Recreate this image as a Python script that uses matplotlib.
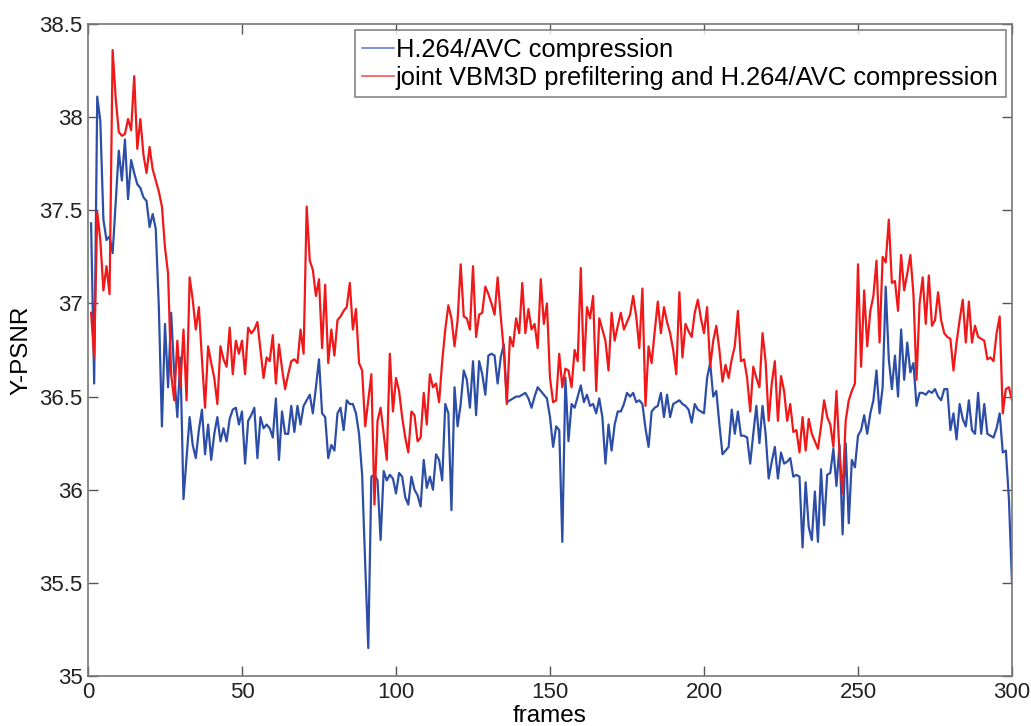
import numpy as np
import matplotlib
matplotlib.use("Agg")
import matplotlib.pyplot as plt

plt.rcParams['font.family'] = ['Liberation Sans', 'DejaVu Sans']

# Y-PSNR по кадрам
psnr_h264 = [
    37.43, 36.57, 38.11, 37.98, 37.45, 37.34, 37.36, 37.27, 37.55, 37.82,
    37.66, 37.88, 37.56, 37.77, 37.70, 37.64, 37.62, 37.57, 37.55, 37.41,
    37.48, 37.40, 36.98, 36.34, 36.89, 36.55, 36.95, 36.62, 36.39, 36.71,
    35.95, 36.17, 36.39, 36.24, 36.17, 36.32, 36.43, 36.19, 36.35, 36.16,
    36.30, 36.39, 36.26, 36.33, 36.26, 36.38, 36.43, 36.44, 36.35, 36.42,
    36.14, 36.37, 36.40, 36.44, 36.17, 36.39, 36.33, 36.35, 36.33, 36.28,
    36.49, 36.16, 36.42, 36.30, 36.30, 36.45, 36.31, 36.45, 36.35, 36.45,
    36.48, 36.51, 36.41, 36.55, 36.70, 36.41, 36.39, 36.17, 36.24, 36.21,
    36.41, 36.44, 36.32, 36.48, 36.46, 36.46, 36.41, 36.30, 36.08, 35.60,
    35.15, 36.07, 36.08, 36.05, 35.73, 36.10, 36.05, 36.08, 36.06, 35.98,
    36.09, 36.07, 35.96, 35.92, 36.07, 36.00, 35.97, 35.91, 36.16, 36.01,
    36.07, 36.00, 36.19, 36.16, 36.05, 36.46, 36.41, 35.89, 36.55, 36.34,
    36.46, 36.64, 36.59, 36.44, 36.69, 36.40, 36.69, 36.62, 36.51, 36.72,
    36.73, 36.72, 36.57, 36.71, 36.78, 36.47, 36.48, 36.49, 36.50, 36.50,
    36.51, 36.52, 36.49, 36.44, 36.50, 36.55, 36.53, 36.51, 36.49, 36.39,
    36.23, 36.34, 36.32, 35.72, 36.60, 36.26, 36.46, 36.44, 36.50, 36.56,
    36.47, 36.51, 36.45, 36.46, 36.41, 36.49, 36.39, 36.14, 36.35, 36.21,
    36.35, 36.42, 36.42, 36.46, 36.52, 36.50, 36.52, 36.47, 36.48, 36.46,
    36.33, 36.23, 36.42, 36.44, 36.45, 36.52, 36.39, 36.51, 36.39, 36.46,
    36.47, 36.48, 36.46, 36.45, 36.43, 36.36, 36.46, 36.43, 36.42, 36.41,
    36.60, 36.68, 36.50, 36.53, 36.35, 36.19, 36.21, 36.23, 36.43, 36.30,
    36.42, 36.29, 36.29, 36.28, 36.14, 36.30, 36.45, 36.25, 36.45, 36.30,
    36.06, 36.15, 36.23, 36.06, 36.20, 36.14, 36.15, 36.17, 36.07, 36.08,
    36.07, 35.69, 36.04, 35.80, 35.73, 35.99, 35.72, 36.11, 35.81, 36.08,
    36.09, 36.22, 36.02, 36.24, 35.76, 36.25, 35.82, 36.16, 36.12, 36.29,
    36.32, 36.40, 36.30, 36.41, 36.48, 36.64, 36.41, 36.55, 37.09, 36.70,
    36.54, 36.72, 36.50, 36.86, 36.59, 36.79, 36.63, 36.68, 36.45, 36.52,
    36.52, 36.51, 36.53, 36.52, 36.54, 36.50, 36.48, 36.54, 36.54, 36.32,
    36.41, 36.27, 36.46, 36.38, 36.34, 36.48, 36.32, 36.30, 36.52, 36.30,
    36.46, 36.30, 36.29, 36.28, 36.33, 36.41, 36.20, 36.21, 35.95, 35.50,
]

psnr_vbm3d = [
    36.95, 36.71, 37.49, 37.34, 37.07, 37.20, 37.05, 38.36, 38.10, 37.92,
    37.90, 37.91, 37.99, 37.93, 38.22, 37.83, 37.99, 37.80, 37.70, 37.84,
    37.72, 37.66, 37.60, 37.52, 37.30, 37.16, 36.62, 36.48, 36.80, 36.55,
    36.86, 36.48, 37.14, 37.02, 36.86, 36.98, 36.70, 36.44, 36.77, 36.68,
    36.60, 36.46, 36.77, 36.70, 36.66, 36.87, 36.62, 36.80, 36.73, 36.80,
    36.62, 36.87, 36.84, 36.86, 36.90, 36.75, 36.60, 36.71, 36.69, 36.83,
    36.57, 36.78, 36.65, 36.54, 36.62, 36.69, 36.70, 36.68, 36.86, 36.73,
    37.52, 37.23, 37.18, 37.04, 37.13, 36.76, 37.10, 36.68, 36.86, 36.72,
    36.91, 36.93, 36.96, 36.98, 37.11, 36.86, 36.97, 36.68, 36.64, 36.34,
    36.48, 36.62, 35.92, 36.37, 36.44, 36.30, 36.16, 36.73, 36.42, 36.60,
    36.53, 36.39, 36.28, 36.20, 36.42, 36.40, 36.26, 36.28, 36.52, 36.35,
    36.62, 36.55, 36.57, 36.47, 36.69, 36.86, 36.99, 36.92, 36.77, 36.91,
    37.21, 36.93, 36.92, 36.86, 37.20, 36.82, 36.94, 36.95, 37.09, 37.05,
    37.00, 36.94, 37.14, 36.93, 36.75, 36.46, 36.82, 36.77, 36.92, 36.84,
    37.11, 36.84, 36.97, 36.86, 36.89, 36.76, 37.13, 36.89, 37.00, 36.60,
    36.47, 36.48, 36.73, 36.55, 36.65, 36.64, 36.55, 36.75, 36.69, 37.19,
    36.64, 36.98, 36.92, 37.04, 36.53, 36.92, 36.86, 36.80, 36.64, 36.95,
    36.80, 36.88, 36.95, 36.86, 36.90, 36.94, 37.04, 36.93, 36.76, 37.08,
    36.45, 36.77, 36.68, 36.85, 37.01, 36.84, 36.98, 36.90, 36.84, 36.75,
    36.62, 37.06, 36.71, 36.89, 36.85, 36.82, 36.95, 37.02, 36.92, 36.84,
    36.98, 36.66, 36.80, 36.88, 36.75, 36.58, 36.67, 36.60, 36.70, 36.77,
    36.96, 36.69, 36.70, 36.60, 36.42, 36.66, 36.60, 36.55, 36.84, 36.69,
    36.37, 36.57, 36.69, 36.37, 36.61, 36.53, 36.37, 36.46, 36.31, 36.32,
    36.20, 36.39, 36.21, 36.38, 36.30, 36.26, 36.22, 36.34, 36.48, 36.39,
    36.35, 36.23, 36.53, 36.19, 35.98, 36.37, 36.48, 36.53, 36.57, 37.21,
    36.66, 37.07, 36.77, 36.96, 37.04, 37.23, 36.79, 37.25, 37.22, 37.45,
    37.11, 37.12, 36.96, 37.26, 37.07, 37.16, 37.26, 37.05, 36.59, 37.00,
    37.14, 36.89, 37.15, 36.88, 36.91, 37.06, 36.91, 36.84, 36.82, 36.81,
    36.64, 36.79, 36.91, 37.02, 36.79, 37.01, 36.79, 36.88, 36.82, 36.81,
    36.80, 36.70, 36.71, 36.69, 36.84, 36.93, 36.41, 36.54, 36.55, 36.48,
]

frames = np.arange(1, len(psnr_h264) + 1)
x_ticks = [0, 50, 100, 150, 200, 250, 300]
y_ticks = [35, 35.5, 36, 36.5, 37, 37.5, 38, 38.5]
y_tick_labels = ['35', '35.5', '36', '36.5', '37', '37.5', '38', '38.5']

fig = plt.figure(figsize=(10.31, 7.26), dpi=100)
ax = fig.add_axes([88 / 1031, 1 - 676 / 726, (1012 - 88) / 1031, (676 - 24) / 726])

ax.plot(frames, psnr_h264, color='#2d4ea6', lw=1.6, label='H.264/AVC compression')
ax.plot(frames, psnr_vbm3d, color='#f01818', lw=1.6,
        label='joint VBM3D prefiltering and H.264/AVC compression')

ax.set_xlim(0, 300)
ax.set_ylim(35, 38.5)
ax.set_xticks(x_ticks)
ax.set_yticks(y_ticks)
ax.set_yticklabels(y_tick_labels)
ax.tick_params(direction='in', length=7, width=1, top=True, right=True,
               labelsize=16, colors='#555555', labelcolor='#222222', pad=4)
for sp in ax.spines.values():
    sp.set_color('#777777')
    sp.set_linewidth(1.2)

ax.set_ylabel('Y-PSNR', fontsize=17.5, labelpad=5)
ax.set_xlabel('frames', fontsize=17.5, labelpad=2)

leg = ax.legend(loc='upper right', fontsize=18.4, frameon=True, fancybox=False,
                handlelength=1.25, handletextpad=0.05, borderpad=0.28,
                labelspacing=0.16, borderaxespad=0.25)
leg.get_frame().set_edgecolor('#666666')
leg.get_frame().set_linewidth(1.2)
for ln, c in zip(leg.get_lines(), ['#5577cc', '#f04848']):
    ln.set_linewidth(1.1)
    ln.set_color(c)

fig.savefig('out.png', dpi=100)
